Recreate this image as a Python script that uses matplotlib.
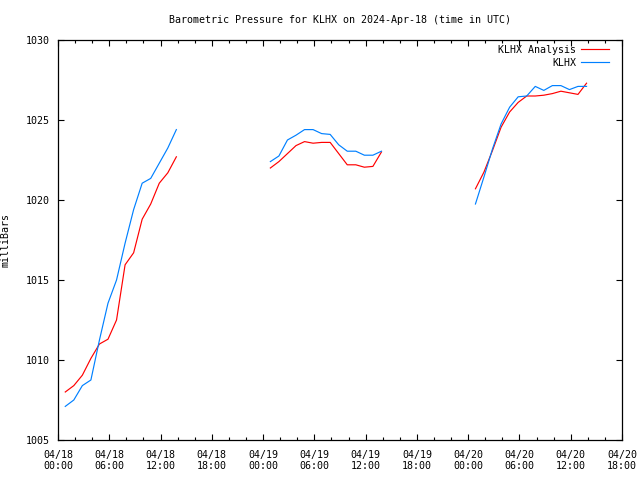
import pandas as pd
import matplotlib
matplotlib.use('Agg')
import matplotlib.pyplot as plt
import matplotlib.dates as mdates

# hourly values, three windows starting at hh:51 UTC
starts = ['2024-04-18 00:51', '2024-04-19 00:51', '2024-04-20 00:51']

analysis = [
    [1008.0, 1008.4, 1009.05, 1010.1, 1011.0, 1011.3, 1012.5, 1015.95,
     1016.7, 1018.8, 1019.75, 1021.05, 1021.7, 1022.7],
    [1022.0, 1022.4, 1022.9, 1023.4, 1023.65, 1023.55, 1023.6, 1023.6,
     1022.9, 1022.2, 1022.2, 1022.05, 1022.1, 1023.0],
    [1020.7, 1021.75, 1023.1, 1024.55, 1025.5, 1026.1, 1026.5, 1026.5,
     1026.55, 1026.65, 1026.8, 1026.7, 1026.6, 1027.3],
]

klhx = [
    [1007.1, 1007.5, 1008.4, 1008.75, 1011.25, 1013.55, 1015.0, 1017.3,
     1019.4, 1021.05, 1021.35, 1022.3, 1023.25, 1024.4],
    [1022.4, 1022.75, 1023.75, 1024.05, 1024.4, 1024.4, 1024.15, 1024.1,
     1023.45, 1023.05, 1023.05, 1022.8, 1022.8, 1023.05],
    [1019.75, 1021.45, 1023.2, 1024.75, 1025.8, 1026.45, 1026.5, 1027.1,
     1026.85, 1027.15, 1027.15, 1026.9, 1027.1, 1027.1],
]

plt.rcParams['font.family'] = 'DejaVu Sans Mono'
plt.rcParams['font.size'] = 7.2

fig = plt.figure(figsize=(6.4, 4.8), dpi=100)
ax = fig.add_axes([58/640, 40/480, 564/640, 400/480])

for i, st in enumerate(starts):
    t = pd.date_range(st, periods=len(analysis[i]), freq='1h')
    ax.plot(t, analysis[i], color='#ff0000', lw=0.85,
            label='KLHX Analysis' if i == 0 else None)
    ax.plot(t, klhx[i], color='#0080ff', lw=0.85,
            label='KLHX' if i == 0 else None)

ax.set_xlim(pd.Timestamp('2024-04-18 00:00'), pd.Timestamp('2024-04-20 18:00'))
ax.set_ylim(1005, 1030)
ax.set_yticks(range(1005, 1031, 5))

ax.xaxis.set_major_locator(mdates.HourLocator(byhour=[0, 6, 12, 18]))
ax.xaxis.set_minor_locator(mdates.HourLocator(byhour=range(0, 24, 2)))
ax.xaxis.set_major_formatter(mdates.DateFormatter('%m/%d\n%H:%M'))

ax.tick_params(which='both', direction='in', top=True, right=True, width=0.8)
ax.tick_params(which='major', length=4.5)
ax.tick_params(which='minor', length=2.2)
ax.tick_params(axis='x', pad=7)
ax.tick_params(axis='y', pad=6)
for s in ax.spines.values():
    s.set_linewidth(0.9)

ax.set_ylabel('milliBars')
ax.yaxis.set_label_coords(-0.085, 0.5)
fig.text(340/640, 1 - 20/480, 'Barometric Pressure for KLHX on 2024-Apr-18 (time in UTC)',
         ha='center', va='center')

ax.legend(loc='upper right', bbox_to_anchor=(1 - 11/564, 1 - 3/400),
          frameon=False, markerfirst=False,
          handlelength=2.8, handletextpad=0.5, labelspacing=0.3,
          borderaxespad=0.0, borderpad=0.2)

fig.savefig('out.png', dpi=100)
